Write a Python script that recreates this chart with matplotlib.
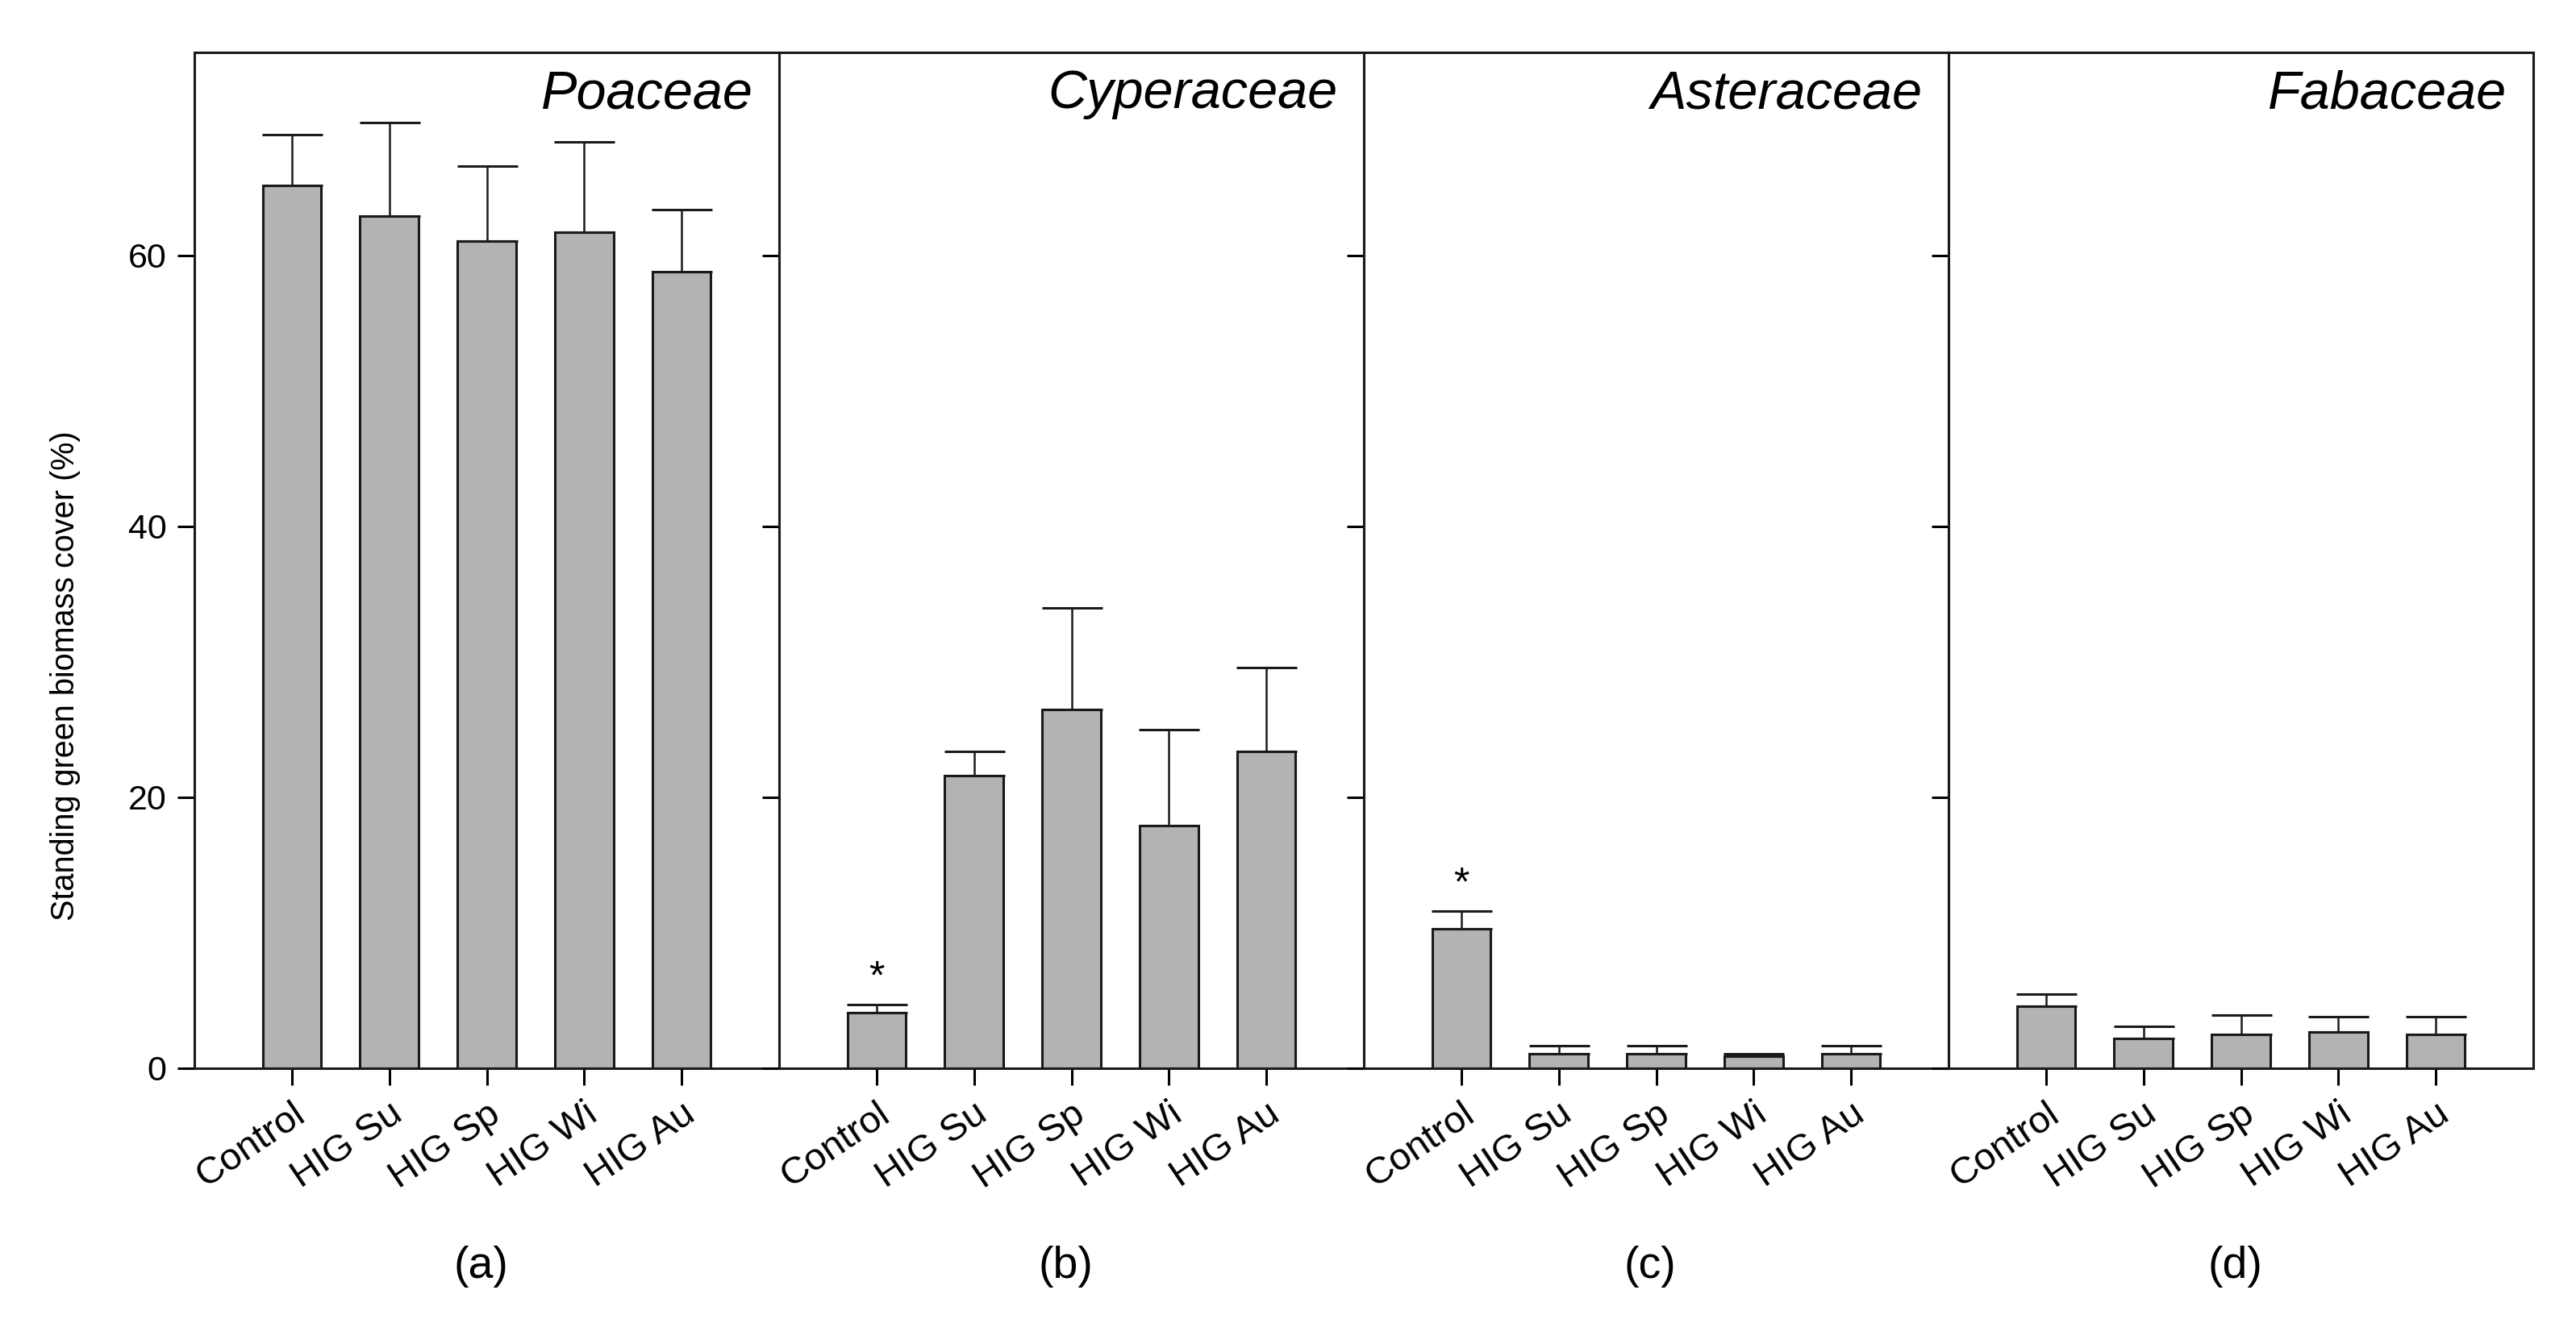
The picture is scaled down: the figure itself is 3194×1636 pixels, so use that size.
import numpy as np
import matplotlib.pyplot as plt

plt.rcParams['font.family'] = ['Liberation Sans', 'DejaVu Sans']

treatments = ['Control', 'HIG Su', 'HIG Sp', 'HIG Wi', 'HIG Au']
families = ['Poaceae', 'Cyperaceae', 'Asteraceae', 'Fabaceae']
panel_tags = ['(a)', '(b)', '(c)', '(d)']

poaceae_mean = [65.2, 62.9, 61.1, 61.7, 58.8]
poaceae_se = [3.7, 6.9, 5.5, 6.7, 4.6]
cyperaceae_mean = [4.1, 21.6, 26.5, 17.9, 23.4]
cyperaceae_se = [0.6, 1.8, 7.5, 7.1, 6.2]
asteraceae_mean = [10.3, 1.1, 1.1, 0.9, 1.1]
asteraceae_se = [1.3, 0.55, 0.55, 0.15, 0.55]
fabaceae_mean = [4.56, 2.18, 2.5, 2.67, 2.48]
fabaceae_se = [0.9, 0.9, 1.4, 1.15, 1.35]

# significant difference marks (index of bar with *)
stars = [[], [0], [0], []]

means = [poaceae_mean, cyperaceae_mean, asteraceae_mean, fabaceae_mean]
ses = [poaceae_se, cyperaceae_se, asteraceae_se, fabaceae_se]

W, H = 3194, 1636
fig = plt.figure(figsize=(W / 100, H / 100), dpi=100)

left0, pw = 241, 725
y0, ytop = 1325, 65
x = np.arange(1, 6)

for i in range(4):
    ax = fig.add_axes([(left0 + i * pw) / W, (H - y0) / H, pw / W, (y0 - ytop) / H])
    m = np.array(means[i])
    e = np.array(ses[i])
    ax.bar(x, m, width=0.6, color='#b3b3b3', edgecolor='#1a1a1a', linewidth=2.2, zorder=2)
    ax.errorbar(x, m, yerr=[np.zeros_like(e), e], fmt='none', ecolor='#1a1a1a',
                elinewidth=1.8, capsize=27, capthick=2.2, zorder=3)
    for j in stars[i]:
        ax.text(x[j], m[j] + e[j] + 0.6, '*', ha='center', va='bottom', fontsize=36)

    ax.set_xlim(0, 6)
    ax.set_ylim(0, 75)
    ax.set_yticks([0, 20, 40, 60])
    ax.set_xticks(x)
    ax.set_xticklabels(treatments, rotation=34, ha='right', rotation_mode='anchor', fontsize=34)
    ax.tick_params(axis='both', direction='out', length=15, width=2.2, labelsize=31, pad=10)
    ax.tick_params(axis='x', pad=10, labelsize=34)
    if i > 0:
        ax.tick_params(axis='y', labelleft=False)
    for s in ax.spines.values():
        s.set_linewidth(2.2)
        s.set_color('#1a1a1a')

    ax.text(0.955, 0.945, families[i], transform=ax.transAxes, ha='right', va='baseline',
            fontsize=48, style='italic')
    ax.text(0.49, -0.195, panel_tags[i], transform=ax.transAxes, ha='center', va='center',
            fontsize=40)

fig.text(81 / W, 1 - 838 / H, 'Standing green biomass cover (%)', rotation=90,
         ha='center', va='center', fontsize=28.5)

fig.savefig('out.png', dpi=100, facecolor='white')
